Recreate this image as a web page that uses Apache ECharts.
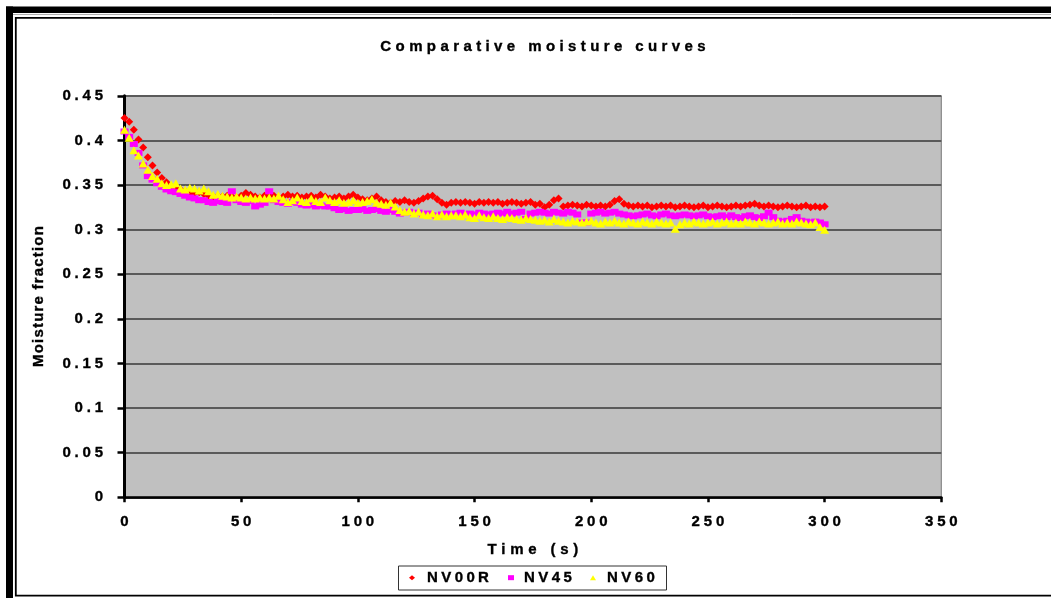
<!DOCTYPE html>
<html>
<head>
<meta charset="utf-8">
<script src="https://cdn.jsdelivr.net/npm/echarts@6/dist/echarts.min.js"></script>
<style>
html,body{margin:0;padding:0;background:#fff;}
#chart{width:1051px;height:598px;}
</style>
</head>
<body>
<div id="chart"></div>
<script>
// ---------- data ----------
const titleText = 'Comparative moisture curves';
const xAxisName = 'Time (s)';
const yAxisName = 'Moisture fraction';
const seriesNames = ['NV00R', 'NV45', 'NV60'];

const timeS = [
  0,2,4,6,8,10,12,14,16,18,
  20,22,24,26,28,30,32,34,36,38,
  40,42,44,46,48,50,52,54,56,58,
  60,62,64,66,68,70,72,74,76,78,
  80,82,84,86,88,90,92,94,96,98,
  100,102,104,106,108,110,112,114,116,118,
  120,122,124,126,128,130,132,134,136,138,
  140,142,144,146,148,150,152,154,156,158,
  160,162,164,166,168,170,172,174,176,178,
  180,182,184,186,188,190,192,194,196,198,
  200,202,204,206,208,210,212,214,216,218,
  220,222,224,226,228,230,232,234,236,238,
  240,242,244,246,248,250,252,254,256,258,
  260,262,264,266,268,270,272,274,276,278,
  280,282,284,286,288,290,292,294,296,298,
  300
];

const nv00r = [
  0.425,0.421,0.412,0.401,0.392,0.381,0.372,0.364,0.358,0.353,
  0.349,0.347,0.345,0.343,0.339,0.341,0.342,0.340,0.338,0.337,
  0.338,0.337,0.338,0.337,0.336,0.338,0.341,0.339,0.337,0.336,
  0.338,0.337,0.338,0.336,0.337,0.339,0.337,0.338,0.336,0.337,
  0.338,0.336,0.339,0.337,0.335,0.336,0.337,0.335,0.337,0.339,
  0.336,0.334,0.333,0.335,0.337,0.333,0.331,0.330,0.332,0.331,
  0.333,0.331,0.330,0.332,0.335,0.337,0.338,0.334,0.330,0.328,
  0.330,0.331,0.330,0.331,0.330,0.329,0.331,0.330,0.331,0.330,
  0.331,0.329,0.330,0.331,0.330,0.329,0.330,0.331,0.328,0.329,
  0.325,0.328,0.333,0.335,0.326,0.327,0.328,0.327,0.326,0.328,
  0.327,0.326,0.327,0.326,0.328,0.332,0.334,0.329,0.327,0.326,
  0.327,0.326,0.327,0.325,0.326,0.327,0.326,0.327,0.325,0.326,
  0.327,0.326,0.325,0.326,0.327,0.325,0.326,0.327,0.326,0.325,
  0.326,0.327,0.326,0.327,0.328,0.329,0.327,0.326,0.327,0.326,
  0.325,0.326,0.327,0.326,0.325,0.326,0.327,0.325,0.326,0.325,
  0.326
];

const nv45 = [
  0.410,0.404,0.396,0.386,0.372,0.360,0.356,0.352,0.348,0.345,
  0.343,0.342,0.340,0.338,0.336,0.335,0.333,0.333,0.331,0.330,
  0.332,0.331,0.330,0.343,0.333,0.331,0.330,0.332,0.326,0.328,
  0.330,0.343,0.333,0.331,0.330,0.329,0.331,0.330,0.328,0.327,
  0.328,0.326,0.327,0.326,0.326,0.324,0.322,0.323,0.321,0.322,
  0.322,0.323,0.321,0.322,0.323,0.321,0.320,0.322,0.320,0.318,
  0.319,0.320,0.318,0.319,0.317,0.318,0.316,0.315,0.317,0.318,
  0.317,0.318,0.319,0.317,0.318,0.317,0.319,0.318,0.317,0.318,
  0.319,0.318,0.320,0.318,0.319,0.320,0.312,0.318,0.319,0.320,
  0.319,0.318,0.320,0.319,0.318,0.320,0.319,0.317,0.308,0.308,
  0.318,0.319,0.320,0.318,0.319,0.320,0.318,0.317,0.316,0.315,
  0.316,0.317,0.318,0.316,0.315,0.317,0.318,0.316,0.315,0.316,
  0.317,0.316,0.315,0.316,0.317,0.315,0.314,0.315,0.316,0.314,
  0.316,0.314,0.313,0.315,0.316,0.314,0.313,0.315,0.319,0.314,
  0.310,0.309,0.310,0.312,0.314,0.310,0.309,0.308,0.309,0.308,
  0.306
];

const nv60 = [
  0.412,0.403,0.389,0.383,0.374,0.367,0.360,0.357,0.352,0.350,
  0.351,0.352,0.346,0.345,0.347,0.346,0.344,0.346,0.343,0.339,
  0.340,0.338,0.337,0.336,0.337,0.336,0.335,0.336,0.335,0.336,
  0.335,0.336,0.335,0.338,0.334,0.331,0.333,0.336,0.332,0.331,
  0.335,0.332,0.331,0.336,0.333,0.331,0.333,0.330,0.331,0.333,
  0.330,0.331,0.332,0.334,0.330,0.329,0.328,0.330,0.326,0.322,
  0.320,0.321,0.318,0.320,0.317,0.316,0.318,0.315,0.317,0.315,
  0.316,0.316,0.315,0.317,0.314,0.313,0.316,0.314,0.313,0.315,
  0.313,0.312,0.314,0.313,0.312,0.311,0.313,0.312,0.311,0.310,
  0.311,0.309,0.312,0.310,0.309,0.308,0.310,0.309,0.308,0.309,
  0.310,0.308,0.307,0.309,0.308,0.310,0.308,0.307,0.309,0.308,
  0.307,0.309,0.308,0.307,0.309,0.308,0.307,0.308,0.301,0.306,
  0.308,0.307,0.309,0.308,0.307,0.308,0.309,0.307,0.308,0.309,
  0.307,0.308,0.307,0.309,0.308,0.307,0.309,0.308,0.307,0.308,
  0.309,0.307,0.308,0.307,0.309,0.308,0.307,0.306,0.308,0.303,
  0.300
];

// ---------- letter spacing (reference text is drawn spaced out) ----------
const FONT = '"Liberation Sans", Arial, Helvetica, sans-serif';
const spacingFor = function (t) {
  if (t === titleText) return 4.4;
  if (t === yAxisName) return 1.2;
  if (t === xAxisName) return 4.8;
  if (seriesNames.indexOf(t) >= 0) return 3.4;
  return 3.8;
};
(function () {
  const P = CanvasRenderingContext2D.prototype;
  if (!('letterSpacing' in P)) return;
  const wrap = function (orig) {
    return function (text, x, y, maxW) {
      const ls = spacingFor(String(text));
      const prev = this.letterSpacing;
      this.letterSpacing = ls + 'px';
      const a = this.textAlign;
      if (a === 'center') x += ls / 2;
      else if (a === 'right' || a === 'end') x += ls;
      if (arguments.length > 3 && maxW != null) orig.call(this, text, x, y, maxW);
      else orig.call(this, text, x, y);
      this.letterSpacing = prev;
    };
  };
  P.fillText = wrap(P.fillText);
  P.strokeText = wrap(P.strokeText);
})();

// ---------- chart ----------
const pairs = function (vals) { return timeS.map(function (t, i) { return [t, vals[i]]; }); };
const chart = echarts.init(document.getElementById('chart'), null, { renderer: 'canvas' });

const textBase = {
  color: '#000', fontWeight: 'bold', fontSize: 15, fontFamily: FONT,
  textBorderColor: '#000', textBorderWidth: 0.35
};

chart.setOption({
  animation: false,
  backgroundColor: '#fff',
  grid: {
    left: 124.5, right: 109.7, top: 95.8, bottom: 100.7,
    show: true, backgroundColor: '#c0c0c0', borderColor: '#7a7a7a', borderWidth: 1
  },
  graphic: [
    { type: 'rect', silent: true, shape: { x: 6, y: 6.5, width: 1045, height: 6.5 }, style: { fill: '#000' } },
    { type: 'rect', silent: true, shape: { x: 6, y: 6.5, width: 7, height: 592 }, style: { fill: '#000' } },
    { type: 'line', silent: true, shape: { x1: 13, y1: 14.5, x2: 1051, y2: 14.5 }, style: { stroke: '#b0b0b0', lineWidth: 1 } },
    { type: 'rect', silent: true, shape: { x: 15.8, y: 17.8, width: 1100, height: 577.8 }, style: { fill: 'none', stroke: '#000', lineWidth: 1.8 } },
    { type: 'rect', silent: true, shape: { x: 398.5, y: 566, width: 268, height: 24 }, style: { fill: '#fff', stroke: '#333', lineWidth: 1 }, z: 0 },
    { type: 'text', silent: true, x: 543, y: 47,
      style: { text: titleText, textAlign: 'center', textVerticalAlign: 'middle',
               fill: '#000', stroke: '#000', lineWidth: 0.35, font: 'bold 15px ' + FONT } }
  ],
  legend: [
    { data: [{ name: 'NV00R', icon: 'diamond' }], left: 409, top: 570, padding: 0, itemWidth: 6, itemHeight: 5,
      textStyle: Object.assign({}, textBase, { padding: [0, 0, 0, 7], lineHeight: 15 }), z: 5 },
    { data: [{ name: 'NV45', icon: 'rect' }], left: 508, top: 570, padding: 0, itemWidth: 6, itemHeight: 5,
      textStyle: Object.assign({}, textBase, { padding: [0, 0, 0, 5], lineHeight: 15 }), z: 5 },
    { data: [{ name: 'NV60', icon: 'triangle' }], left: 590, top: 570, padding: 0, itemWidth: 6, itemHeight: 5,
      textStyle: Object.assign({}, textBase, { padding: [0, 0, 0, 6], lineHeight: 15 }), z: 5 }
  ],
  xAxis: {
    type: 'value', min: 0, max: 350, interval: 50,
    name: xAxisName, nameLocation: 'middle', nameGap: 45,
    nameTextStyle: textBase,
    axisLine: { onZero: false, lineStyle: { color: '#000', width: 2.7 } },
    axisTick: { show: true, inside: false, length: 5, lineStyle: { color: '#000', width: 2.5 } },
    axisLabel: Object.assign({}, textBase, { margin: 17 }),
    splitLine: { show: false }
  },
  yAxis: {
    type: 'value', min: 0, max: 0.45, interval: 0.05,
    name: yAxisName, nameLocation: 'middle', nameGap: 78, nameRotate: 90,
    nameTextStyle: textBase,
    axisLine: { show: true, lineStyle: { color: '#000', width: 3 } },
    axisTick: { show: true, length: 7, lineStyle: { color: '#000', width: 2.5 } },
    axisLabel: Object.assign({}, textBase, { margin: 21.5 }),
    splitLine: { show: true, lineStyle: { color: '#5a5a5a', width: 1.8 } }
  },
  series: [
    { name: 'NV00R', type: 'scatter', data: pairs(nv00r), symbol: 'diamond', symbolSize: [8, 8],
      itemStyle: { color: '#ff0000', opacity: 1 } },
    { name: 'NV45', type: 'scatter', data: pairs(nv45), symbol: 'rect', symbolSize: [8, 6],
      itemStyle: { color: '#ff00ff', opacity: 1 } },
    { name: 'NV60', type: 'scatter', data: pairs(nv60), symbol: 'triangle', symbolSize: [9, 8],
      itemStyle: { color: '#ffff00', opacity: 1 } }
  ]
});
</script>
</body>
</html>
